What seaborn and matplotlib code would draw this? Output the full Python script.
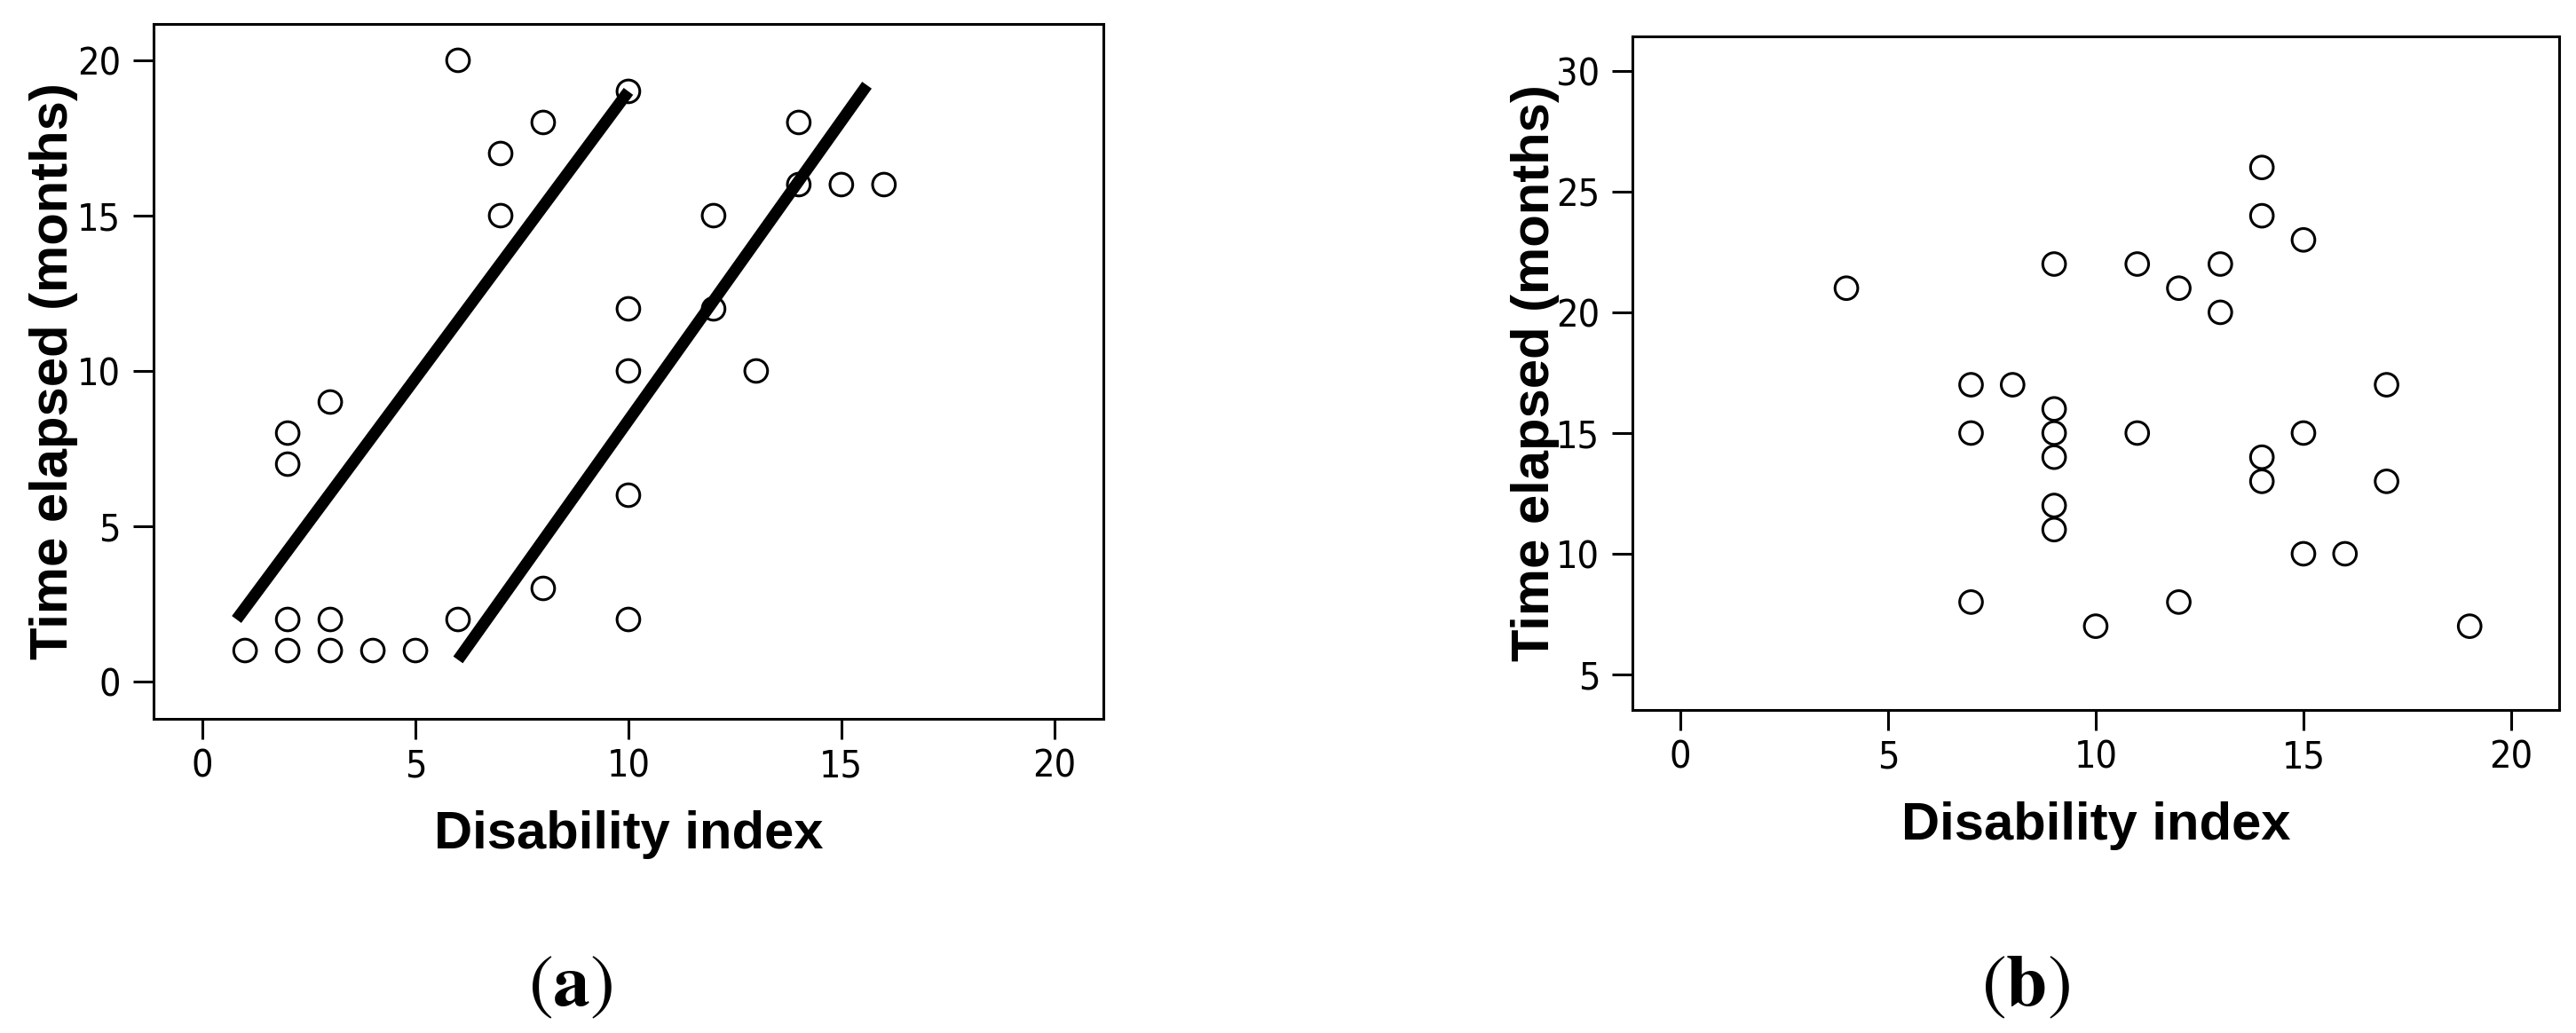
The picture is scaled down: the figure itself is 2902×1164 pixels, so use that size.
import pandas as pd
import seaborn as sns
import matplotlib.pyplot as plt
from matplotlib import font_manager

# panel (a): disability index vs time elapsed, two groups with fitted lines
disab_a = [6, 10, 8, 7, 7, 14, 14, 15, 16, 12, 10, 12, 10, 13, 3, 2, 2, 10, 8,
           2, 3, 6, 10, 1, 2, 3, 4, 5]
months_a = [20, 19, 18, 17, 15, 18, 16, 16, 16, 15, 12, 12, 10, 10, 9, 8, 7, 6, 3,
            2, 2, 2, 2, 1, 1, 1, 1, 1]

# end points of the two lines drawn in panel (a)
line1_x = [0.8, 10.0]
line1_y = [2.0, 19.0]
line2_x = [6.0, 15.6]
line2_y = [0.7, 19.2]

# panel (b)
disab_b = [4, 14, 14, 15, 9, 11, 13, 12, 13, 7, 8, 17, 9, 7, 9, 11, 15,
           9, 14, 14, 17, 9, 9, 15, 16, 7, 12, 10, 19]
months_b = [21, 26, 24, 23, 22, 22, 22, 21, 20, 17, 17, 17, 16, 15, 15, 15, 15,
            14, 14, 13, 13, 12, 11, 10, 10, 8, 8, 7, 7]

x_ticks = [0, 5, 10, 15, 20]
y_ticks_a = [0, 5, 10, 15, 20]
y_ticks_b = [5, 10, 15, 20, 25, 30]

df_a = pd.DataFrame({"disability": disab_a, "months": months_a})
df_b = pd.DataFrame({"disability": disab_b, "months": months_b})
df_l1 = pd.DataFrame({"disability": line1_x, "months": line1_y})
df_l2 = pd.DataFrame({"disability": line2_x, "months": line2_y})

sns.set_style("white")
plt.rcParams["font.family"] = ["Liberation Sans", "DejaVu Sans"]
plt.rcParams["mathtext.fontset"] = "stix"
for key in ["text.color", "axes.labelcolor", "xtick.color", "ytick.color", "axes.edgecolor"]:
    plt.rcParams[key] = "black"

# the tick numbers in the original are a narrow font; use one if it is there
names = {f.name for f in font_manager.fontManager.ttflist}
condensed = [f for f in font_manager.fontManager.ttflist
             if f.name == "DejaVu Sans" and f.stretch == "condensed"]
if "Liberation Sans Narrow" in names:
    tick_font = {"family": "Liberation Sans Narrow", "size": 31}
elif condensed:
    tick_font = {"family": "DejaVu Sans", "stretch": "condensed", "size": 31}
else:
    tick_font = {"family": "Liberation Sans", "size": 29}

label_font = {"family": ["Liberation Sans", "DejaVu Sans"], "size": 43, "weight": "bold"}

fig = plt.figure(figsize=(29.02, 11.64), dpi=100)
ax_a = fig.add_axes([0.0596, 0.3041, 0.3687, 0.6727])
ax_b = fig.add_axes([0.6337, 0.3127, 0.3597, 0.6521])

sns.lineplot(data=df_l1, x="disability", y="months", ax=ax_a, color="black",
             linewidth=9.5, solid_capstyle="butt", estimator=None, sort=False)
sns.lineplot(data=df_l2, x="disability", y="months", ax=ax_a, color="black",
             linewidth=9.5, solid_capstyle="butt", estimator=None, sort=False)

for ax, df in [(ax_a, df_a), (ax_b, df_b)]:
    sns.scatterplot(data=df, x="disability", y="months", ax=ax, marker="o",
                    s=340, color="none", edgecolor="black", linewidth=2.2, zorder=3)

ax_a.set_xlim(-1.15, 21.15)
ax_a.set_ylim(-1.2, 21.17)
ax_b.set_xlim(-1.15, 21.15)
ax_b.set_ylim(3.53, 31.43)

for ax, yt in [(ax_a, y_ticks_a), (ax_b, y_ticks_b)]:
    ax.set_xticks(x_ticks)
    ax.set_yticks(yt)
    ax.set_xticklabels([str(t) for t in x_ticks], fontdict=tick_font)
    ax.set_yticklabels([str(t) for t in yt], fontdict=tick_font)
    ax.tick_params(axis="both", which="major", direction="out", length=16.5,
                   width=2.2, color="black", labelcolor="black", left=True, bottom=True)
    ax.tick_params(axis="x", pad=7)
    ax.tick_params(axis="y", pad=10)
    for sp in ax.spines.values():
        sp.set_linewidth(2.2)
        sp.set_color("black")
    ax.set_xlabel("Disability index", fontdict=label_font, color="black")
    ax.set_ylabel("Time elapsed (months)", fontdict=label_font, color="black")

ax_a.xaxis.set_label_coords(0.5, -0.1315)
ax_b.xaxis.set_label_coords(0.5, -0.1357)
ax_a.yaxis.set_label_coords(-0.079, 0.5)
ax_b.yaxis.set_label_coords(-0.0785, 0.5)

fig.text(0.2215, 0.0455, r"$\mathrm{(}\mathbf{a}\mathrm{)}$", fontsize=60,
         ha="center", va="center", color="black")
fig.text(0.7865, 0.0455, r"$\mathrm{(}\mathbf{b}\mathrm{)}$", fontsize=60,
         ha="center", va="center", color="black")

fig.savefig("out.png", dpi=100, facecolor="white")
